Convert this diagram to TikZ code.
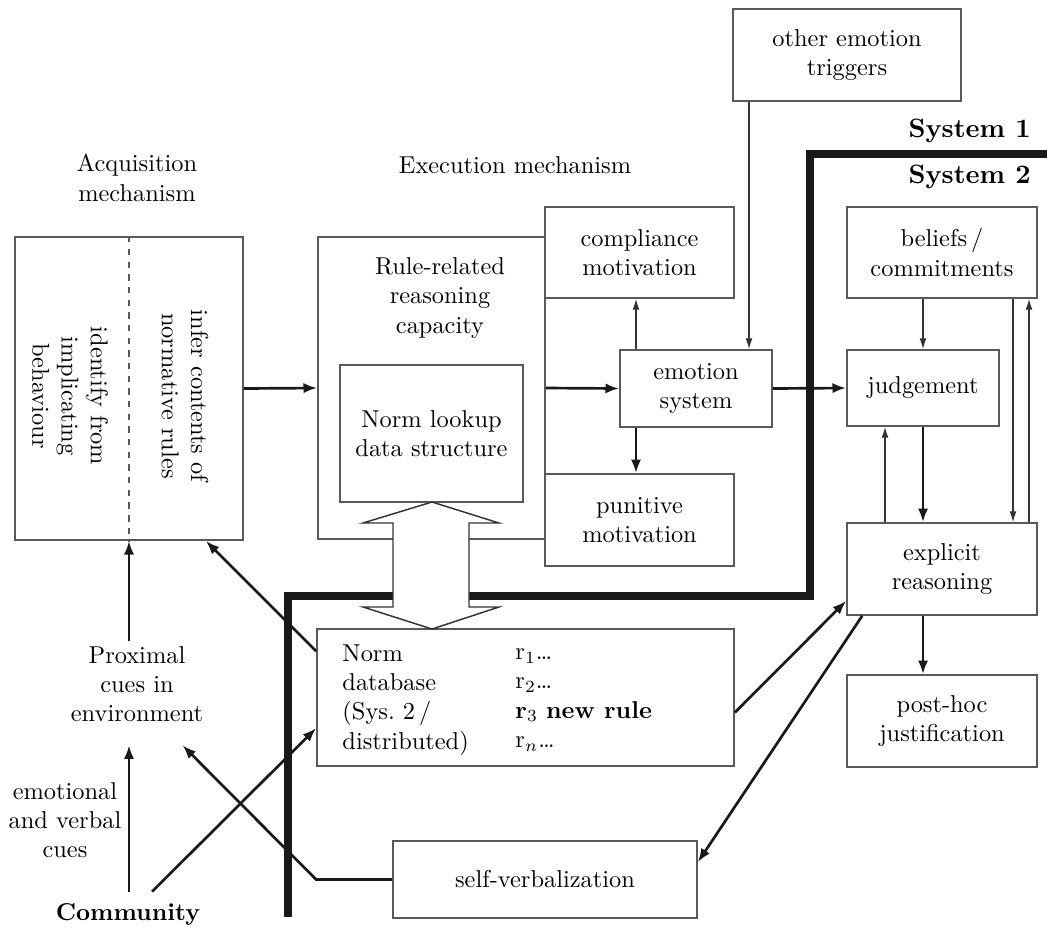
\documentclass[tikz,border=0pt]{standalone}
\usepackage{amsmath}
\usepackage{tikz}
\usetikzlibrary{arrows.meta}
\usetikzlibrary{calc}
\usetikzlibrary{positioning}
\newcommand{\pxu}{0.41pt}
\tikzset{
    diagram box/.style={
        draw=black!65,
        line width=0.7pt,
        align=center,
        inner sep=0pt
    },
    box size/.style 2 args={
        minimum width=#1*\pxu,
        minimum height=#2*\pxu
    },
    plain text/.style={
        align=center,
        inner sep=2pt
    },
    strong link/.style={
        draw=black!90,
        line width=1.1pt,
        -{Latex[length=5.6pt,width=4.2pt]}
    },
    weak link/.style={
        draw=black!80,
        line width=0.5pt,
        -{Latex[length=4.4pt,width=2.8pt]}
    },
    system border/.style={
        draw=black!90,
        line width=2.9pt
    },
    system label/.style={
        anchor=east,
        inner sep=2pt,
        font=\bfseries\fontsize{10.9}{13}\selectfont
    }
}

\begin{document}
\begin{tikzpicture}[x=\pxu, y=-\pxu]
    \useasboundingbox (0,0) rectangle (1047,931);

    % acquisition side
    \node[plain text] (acqlabel) at (137,178) {Acquisition\\mechanism};
    \node[diagram box, box size={228}{303}] (acq) at (129,388.5) {};
    \draw[black!65, line width=0.6pt, dash pattern=on 2.6pt off 2.6pt] (acq.north) -- (acq.south);
    \node[plain text, rotate=-90] (identify) at (70,396) {identify from\\implicating\\behaviour};
    \node[plain text, rotate=-90] (infer) at (185,396) {infer contents of\\normative rules};
    \node[plain text] (prox) at (137,684) {Proximal\\cues in\\environment};
    \node[plain text] (cues) at (65,820) {emotional\\and verbal\\cues};
    \node[plain text, font=\bfseries] (comm) at (128,914) {Community};

    % execution side
    \node[plain text] (execlabel) at (515,165) {Execution mechanism};
    \node[diagram box, box size={227}{302}] (rule) at (431.5,388) {};
    \node[plain text] (rulelabel) at (440,298) {Rule-related\\reasoning\\capacity};
    \node[diagram box, box size={183}{137}] (lookup) at (431.5,433.5) {Norm lookup\\data structure};
    \node[diagram box, box size={189}{91}] (comp) at (639.5,252.5) {compliance\\motivation};
    \node[diagram box, box size={189}{92}] (pun) at (639.5,520) {punitive\\motivation};
    \node[diagram box, box size={152}{77}] (emo) at (696,388.5) {emotion\\system};
    \node[diagram box, box size={228}{92}] (trig) at (847,55) {other emotion\\triggers};

    % system 2
    \node[system label] (sysone) at (1036,131) {System 1};
    \node[system label] (systwo) at (1036,177) {System 2};
    \node[diagram box, box size={190}{91}] (beliefs) at (942,252.5) {beliefs\,/\\commitments};
    \node[diagram box, box size={152}{76}] (judg) at (923,388) {judgement};
    \node[diagram box, box size={190}{92}] (expl) at (942,569) {explicit\\reasoning};
    \node[diagram box, box size={190}{92}] (post) at (942,721) {post-hoc\\justification};

    % database and verbalization
    \node[diagram box, box size={417}{137}] (normdb) at (525.5,697.5) {};
    \node[anchor=west, align=left, inner sep=0pt] (dbnames) at (342,700) {Norm\\database\\(Sys.\ 2\,/\\distributed)};
    \node[anchor=west, align=left, inner sep=0pt] (dbrules) at (515,700) {r$_1$\ldots\\r$_2$\ldots\\\textbf{r}$_3$ \textbf{new rule}\\r$_n$\ldots};
    \node[diagram box, box size={304}{77}] (selfv) at (545,879.5) {self-verbalization};

    % border between the two systems
    \draw[system border] (1047,154) -- (810,154) -- (810,596) -- (288,596) -- (288,917);

    % lookup <-> database
    \draw[draw=black!80, line width=0.6pt, fill=white]
        (432,502) -- (499,523) -- (469,523) -- (469,607) -- (499,607) -- (432,629)
        -- (363,607) -- (393,607) -- (393,523) -- (363,523) -- cycle;

    \coordinate (xcomp) at (636,0);
    \coordinate (xtrig) at (749,0);
    \coordinate (xback) at (885,0);
    \coordinate (xdown) at (1013,0);
    \coordinate (xup) at (1029,0);

    \draw[strong link] (acq.east) -- (rule.west);
    \draw[strong link] (rule.east) -- (emo.west);
    \draw[strong link] (emo.east) -- (judg.west);
    \draw[weak link] (emo.north -| xcomp) -- (comp.south -| xcomp);
    \draw[strong link] (emo.south -| xcomp) -- (pun.north -| xcomp);
    \draw[weak link] (trig.south -| xtrig) -- (emo.north -| xtrig);
    \draw[weak link] (beliefs.south -| judg.north) -- (judg.north);
    \draw[strong link] (judg.south) -- (judg.south |- expl.north);
    \draw[weak link] (expl.north -| xback) -- (judg.south -| xback);
    \draw[weak link] (beliefs.south -| xdown) -- (expl.north -| xdown);
    \draw[weak link] (expl.north -| xup) -- (beliefs.south -| xup);
    \draw[strong link] (expl.south -| judg.south) -- (post.north -| judg.south);

    \draw[strong link] (prox.north -| acq.south) -- (acq.south);
    \draw[strong link] ($(comm.north -| acq.south)+(0,-6)$) -- ($(prox.south -| acq.south)+(0,18)$);
    \draw[strong link] ($(comm.north)+(24,-6)$) -- ($(normdb.north west)+(0,100)$);
    \draw[strong link] ($(normdb.north west)+(0,23)$) -- ($(acq.south east)+(-38,0)$);
    \draw[strong link] (selfv.west) -- (selfv.west -| normdb.west) -- ($(prox.south east)+(-26,18)$);
    \draw[strong link] ($(normdb.east)+(0,15)$) -- ($(expl.south west)+(0,-15)$);
    \draw[strong link] ($(expl.south west)+(16,0)$) -- ($(selfv.north east)+(0,22)$);
\end{tikzpicture}
\end{document}
